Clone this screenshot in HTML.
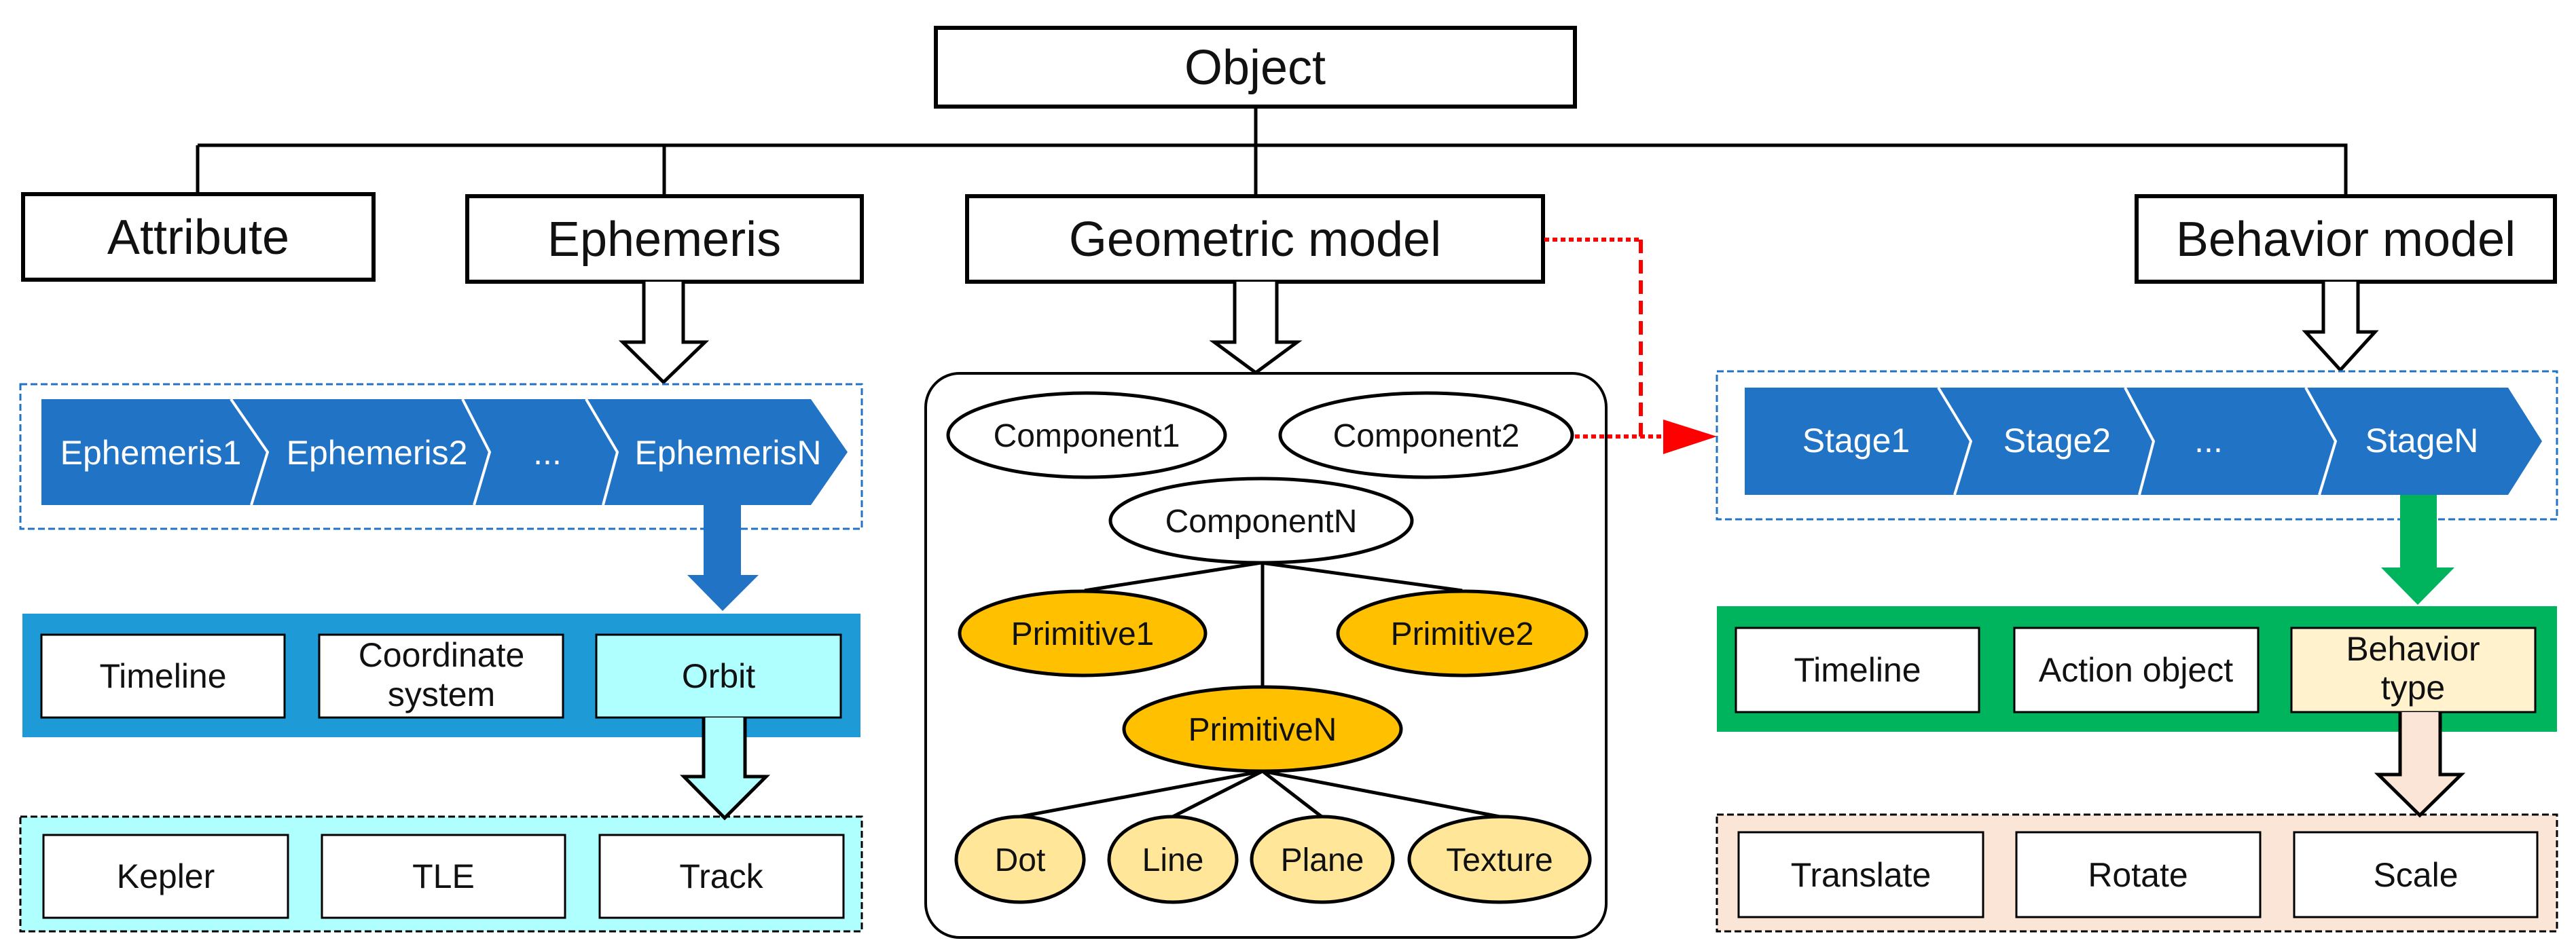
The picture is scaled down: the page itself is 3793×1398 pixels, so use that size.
<!DOCTYPE html>
<html><head><meta charset="utf-8"><style>
html,body{margin:0;padding:0;background:#fff;}
svg{display:block;}
text{font-family:"Liberation Sans",Arial,sans-serif;}
</style></head><body>
<svg width="3793" height="1398" viewBox="0 0 3793 1398" xmlns="http://www.w3.org/2000/svg">
<g stroke="#000" stroke-width="5" fill="none">
  <path d="M1849 157 V214 M291 214 H3454 V289 M291 214 V286 M978 214 V289 M1849 214 V289"/>
</g>
<g stroke="#000" stroke-width="6" fill="#fff">
  <rect x="1378" y="41" width="941" height="116"/>
  <rect x="34" y="286" width="516" height="126"/>
  <rect x="688" y="289" width="581" height="126"/>
  <rect x="1424" y="289" width="848" height="126"/>
  <rect x="3146" y="289" width="616" height="126"/>
</g>
<g font-size="72" fill="#111" text-anchor="middle">
  <text x="1848" y="124">Object</text>
  <text x="292" y="374">Attribute</text>
  <text x="978" y="377">Ephemeris</text>
  <text x="1848" y="377">Geometric model</text>
  <text x="3454" y="377">Behavior model</text>
</g>
<g stroke="#000" stroke-width="5" fill="#fff" stroke-linejoin="miter">
  <path d="M948 415 V504 H917 L977 563 L1038 504 H1006 V415"/>
  <path d="M1818 415 V504 H1788 L1849 549 L1910 504 H1880 V415"/>
  <path d="M3421 415 V489 H3395 L3446 545 L3497 489 H3472 V415"/>
</g>
<rect x="30" y="566" width="1239" height="213" fill="#fff" stroke="#2173C6" stroke-width="3" stroke-dasharray="10,5"/>
<path d="M61 588 H1194 L1248 666 L1194 744 H61 Z" fill="#2173C6"/>
<g stroke="#fff" stroke-width="4" fill="none">
  <path d="M340 588 L394 666 L370 744"/>
  <path d="M681 588 L721 666 L698 744"/>
  <path d="M863 588 L909 666 L888 744"/>
</g>
<g font-size="50" fill="#fff" text-anchor="middle">
  <text x="222" y="684">Ephemeris1</text>
  <text x="555" y="684">Ephemeris2</text>
  <text x="806" y="684">...</text>
  <text x="1072" y="684">EphemerisN</text>
</g>
<path d="M1036 744 V847 H1012 L1064 900 L1117 847 H1091 V744 Z" fill="#2173C6"/>
<rect x="33" y="904" width="1234" height="182" fill="#1E9BD7"/>
<g stroke="#000" stroke-width="3">
  <rect x="61" y="935" width="358" height="122" fill="#fff"/>
  <rect x="470" y="935" width="359" height="122" fill="#fff"/>
  <rect x="878" y="935" width="360" height="122" fill="#AFFFFF"/>
</g>
<g font-size="50" fill="#111" text-anchor="middle">
  <text x="240" y="1013">Timeline</text>
  <text x="650" y="982">Coordinate</text>
  <text x="650" y="1040">system</text>
  <text x="1058" y="1013">Orbit</text>
</g>
<rect x="30" y="1203" width="1239" height="169" fill="#AFFFFF" stroke="#000" stroke-width="3" stroke-dasharray="10,5"/>
<path d="M1036 1057 V1144 H1007 L1067 1205 L1128 1144 H1097 V1057" fill="#AFFFFF" stroke="#000" stroke-width="5"/>
<g stroke="#000" stroke-width="3" fill="#fff">
  <rect x="64" y="1230" width="360" height="122"/>
  <rect x="474" y="1230" width="358" height="122"/>
  <rect x="883" y="1230" width="359" height="122"/>
</g>
<g font-size="50" fill="#111" text-anchor="middle">
  <text x="244" y="1308">Kepler</text>
  <text x="653" y="1308">TLE</text>
  <text x="1062" y="1308">Track</text>
</g>
<rect x="1363" y="550" width="1002" height="831" rx="50" fill="none" stroke="#000" stroke-width="4"/>
<g stroke="#000" stroke-width="5">
  <path d="M1857 829 L1597 870 M1857 829 L2153 870 M1859 829 V1012 M1859 1136 L1502 1203 M1859 1136 L1727 1203 M1859 1136 L1946 1203 M1859 1136 L2208 1203" fill="none"/>
  <ellipse cx="1600" cy="641" rx="204" ry="62" fill="#fff"/>
  <ellipse cx="2100" cy="641" rx="215" ry="62" fill="#fff"/>
  <ellipse cx="1857" cy="767" rx="222" ry="62" fill="#fff"/>
  <ellipse cx="1594" cy="933" rx="181" ry="62" fill="#FFC000"/>
  <ellipse cx="2153" cy="933" rx="183" ry="62" fill="#FFC000"/>
  <ellipse cx="1859" cy="1074" rx="204" ry="62" fill="#FFC000"/>
  <ellipse cx="1502" cy="1266" rx="94" ry="63" fill="#FFE699"/>
  <ellipse cx="1727" cy="1266" rx="94" ry="63" fill="#FFE699"/>
  <ellipse cx="1947" cy="1266" rx="104" ry="63" fill="#FFE699"/>
  <ellipse cx="2208" cy="1266" rx="133" ry="63" fill="#FFE699"/>
</g>
<g font-size="48" fill="#111" text-anchor="middle">
  <text x="1600" y="658">Component1</text>
  <text x="2100" y="658">Component2</text>
  <text x="1857" y="784">ComponentN</text>
  <text x="1594" y="950">Primitive1</text>
  <text x="2153" y="950">Primitive2</text>
  <text x="1859" y="1091">PrimitiveN</text>
  <text x="1502" y="1283">Dot</text>
  <text x="1727" y="1283">Line</text>
  <text x="1947" y="1283">Plane</text>
  <text x="2208" y="1283">Texture</text>
</g>
<g stroke="#FF0000" stroke-width="6" fill="none">
  <path d="M2274 353 H2416" stroke-dasharray="7,5"/>
  <path d="M2416 353 V643" stroke-dasharray="20,10"/>
  <path d="M2319 643 H2449" stroke-dasharray="7,5"/>
</g>
<path d="M2449 618 L2528 643 L2449 669 Z" fill="#FF0000"/>
<rect x="2528" y="547" width="1237" height="218" fill="#fff" stroke="#2173C6" stroke-width="3" stroke-dasharray="10,5"/>
<path d="M2569 571 H3693 L3743 650 L3693 729 H2569 Z" fill="#2173C6"/>
<g stroke="#fff" stroke-width="4" fill="none">
  <path d="M2854 571 L2902 650 L2878 729"/>
  <path d="M3129 571 L3171 650 L3150 729"/>
  <path d="M3395 571 L3439 650 L3415 729"/>
</g>
<g font-size="50" fill="#fff" text-anchor="middle">
  <text x="2733" y="666">Stage1</text>
  <text x="3029" y="666">Stage2</text>
  <text x="3252" y="666">...</text>
  <text x="3566" y="666">StageN</text>
</g>
<path d="M3534 729 V836 H3506 L3560 891 L3614 836 H3588 V729 Z" fill="#00B35D"/>
<rect x="2528" y="893" width="1237" height="185" fill="#00B35D"/>
<g stroke="#000" stroke-width="3">
  <rect x="2556" y="925" width="358" height="124" fill="#fff"/>
  <rect x="2966" y="925" width="359" height="124" fill="#fff"/>
  <rect x="3374" y="925" width="359" height="124" fill="#FFF2CC"/>
</g>
<g font-size="50" fill="#111" text-anchor="middle">
  <text x="2735" y="1004">Timeline</text>
  <text x="3145" y="1004">Action object</text>
  <text x="3553" y="973">Behavior</text>
  <text x="3553" y="1030">type</text>
</g>
<rect x="2528" y="1200" width="1237" height="172" fill="#FBE5D6" stroke="#000" stroke-width="3" stroke-dasharray="10,5"/>
<path d="M3534 1049 V1141 H3502 L3563 1201 L3624 1141 H3593 V1049" fill="#FBE5D6" stroke="#000" stroke-width="5"/>
<g stroke="#000" stroke-width="3" fill="#fff">
  <rect x="2560" y="1226" width="360" height="125"/>
  <rect x="2969" y="1226" width="359" height="125"/>
  <rect x="3378" y="1226" width="358" height="125"/>
</g>
<g font-size="50" fill="#111" text-anchor="middle">
  <text x="2740" y="1306">Translate</text>
  <text x="3148" y="1306">Rotate</text>
  <text x="3557" y="1306">Scale</text>
</g>
</svg>
</body></html>
